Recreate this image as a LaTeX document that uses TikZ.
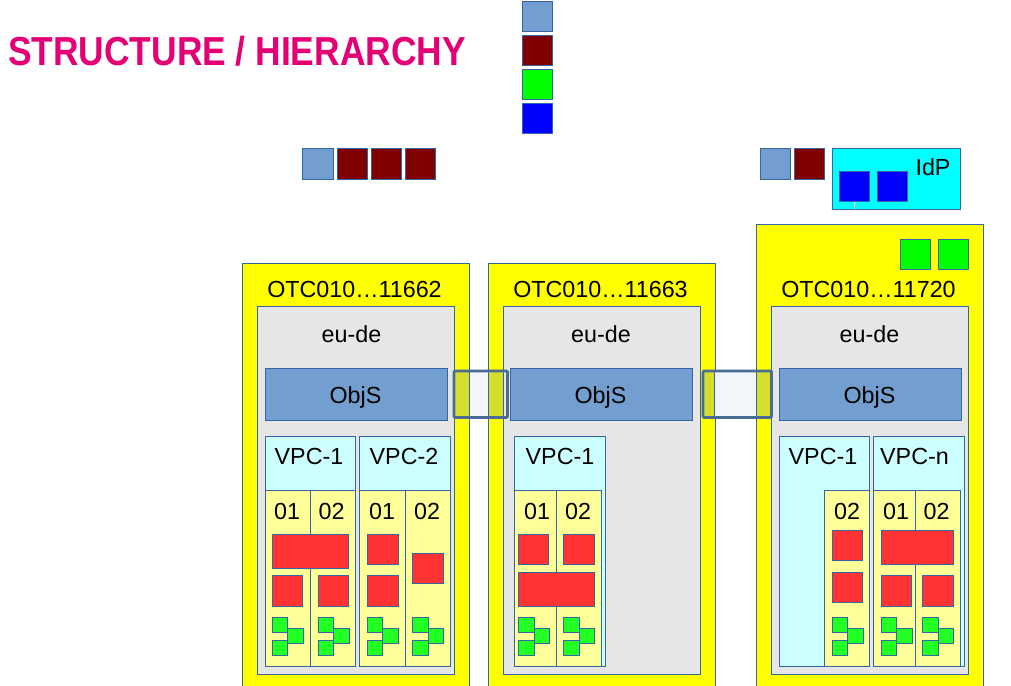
\documentclass[tikz,border=0pt]{standalone}
\usepackage{fontspec}
\setmainfont{Liberation Sans}

\definecolor{edgeblue}{HTML}{3465A4}
\definecolor{objblue}{HTML}{729FCF}
\definecolor{darkred}{HTML}{800000}
\definecolor{purecyan}{HTML}{00FFFF}
\definecolor{pureyellow}{HTML}{FFFF00}
\definecolor{puregreen}{HTML}{00FF00}
\definecolor{pureblue}{HTML}{0000FF}
\definecolor{lightcyan}{HTML}{CCFFFF}
\definecolor{lightyellow}{HTML}{FFFF99}
\definecolor{regiongray}{HTML}{E6E6E6}
\definecolor{vmred}{HTML}{FF3333}
\definecolor{netgreen}{HTML}{22FF22}
\definecolor{titlepink}{HTML}{E20074}
\definecolor{peerolive}{HTML}{D5DF2B}
\definecolor{peerwhite}{HTML}{F2F5FA}
\definecolor{peeredge}{HTML}{4A6B93}

\tikzset{
  box/.style={draw=edgeblue,line width=0.95pt},
  lbl/.style={anchor=base,inner sep=0pt,font=\fontsize{23.3}{26}\selectfont},
}

\begin{document}
\begin{tikzpicture}[x=1pt,y=-1pt]
  \useasboundingbox (0,0) rectangle (1011,685);
  \clip (0,0) rectangle (1011,685);
  % title
  \node[anchor=base west,inner sep=0pt,text=titlepink,transform shape,xscale=0.873,
        font=\fontsize{40.5}{44}\selectfont\bfseries] (title) at (8,65) {STRUCTURE / HIERARCHY};
  % legend
  \foreach \y/\c in {1.5/objblue,35/darkred,69/puregreen,103/pureblue}
    \draw[box,fill=\c] (522.5,\y) rectangle ++(30,30);
  % items above the accounts
  \foreach \x/\c in {302.5/objblue,337/darkred,371/darkred,405/darkred,760/objblue,794/darkred}
    \draw[box,fill=\c] (\x,148.5) rectangle ++(30.5,31);
  \draw[box,fill=purecyan] (832.5,148.5) rectangle (960.5,209);
  \foreach \x in {839.5,877.5}
    \draw[box,fill=pureblue] (\x,171) rectangle ++(30,30.5);
  \draw[white] (854.5,202) -- (854.5,208.5);
  \node[lbl] (idp) at (933,175) {IdP};
  % accounts
  \foreach \x/\y/\t/\o/\e in {242.5/263/11662/265/351.5,488.5/263/11663/510/601,756.5/224.5/11720/779/869.5} {
    \draw[box,fill=pureyellow] (\x,\y) rectangle ++(226.5,480);
    \draw[box,fill=regiongray] (\x+14.5,306.5) rectangle ++(197,367.5);
    \draw[box,fill=objblue] (\o,368) rectangle ++(182,52.5);
    \node[lbl] (otc\t) at (\x+112,297.5) {OTC010…\t};
    \node[lbl] (eu\t) at (\e,342.7) {eu-de};
    \node[lbl] (obj\t) at (\o+90.5,403.3) {ObjS};
  }
  \foreach \x in {900,938}
    \draw[box,fill=puregreen] (\x,239) rectangle ++(30.5,30.5);
  % vpc
  \foreach \a/\b in {265/355.5,359.5/450.5,514.5/605.5,779/869.5,873.5/964.5}
    \draw[box,fill=lightcyan] (\a,436.5) rectangle (\b,666.5);
  \node[lbl] (vpca) at (309,464) {VPC-1};
  \node[lbl] (vpcb) at (404,464) {VPC-2};
  \node[lbl] (vpcc) at (560,464) {VPC-1};
  \node[lbl] (vpcd) at (823,464) {VPC-1};
  \node[lbl] (vpce) at (914.5,464) {VPC-n};
  % subnets
  \foreach \a/\b/\d/\m in {265/310.5/01/287,310.5/355.5/02/331.5,359.5/405.5/01/382,405.5/450.5/02/427,514.5/556.5/01/537,556.5/601.5/02/578,824.5/869.5/02/847,873.5/915.5/01/896,915.5/960.5/02/936.5} {
    \draw[box,fill=lightyellow] (\a,490.5) rectangle (\b,666.5);
    \node[lbl] (sub\a) at (\m,519) {\d};
  }
  % servers
  \foreach \x/\y/\w/\h in {272/534/76.5/34,272/575/30.5/31,318/575/30.5/31,
      367/534/31/30.5,367/575/31/31,412.5/553/30.5/30.5,
      518.5/534.5/30/30,563.5/534.5/31/30,518.5/572/76/34.5,
      832/530/30.5/30.5,832/572/30.5/30.5,881/530/72.5/34.5,881/575/30.5/31,922.5/575/31/31}
    \draw[box,fill=vmred] (\x,\y) rectangle ++(\w,\h);
  % networks
  \foreach \x in {272,318,367,412.5,518.5,563.5,832,881,922.5} {
    \draw[box,fill=netgreen] (\x,617.5) rectangle ++(15.5,15);
    \draw[box,fill=netgreen] (\x,640) rectangle ++(15.5,15.5);
    \draw[box,fill=netgreen] (\x+15.5,628.5) rectangle ++(15.5,15);
  }
  % peerings
  \foreach \a/\b/\c/\d/\e in {454/469/488.5/503/507.5,703/714.5/756.5/771.5/771.5} {
    \fill[peerolive] (\a,371) rectangle (\b,417.5);
    \fill[peerwhite] (\b,371) rectangle (\c,417.5);
    \fill[peerolive] (\c,371) rectangle (\d,417.5);
    \draw[edgeblue,line width=0.95pt] (\b,371) -- (\b,417.5) (\c,371) -- (\c,417.5);
    \draw[peeredge,line width=2.6pt,rounded corners=1pt] (\a,371) rectangle (\e,417.5);
  }
\end{tikzpicture}
\end{document}
